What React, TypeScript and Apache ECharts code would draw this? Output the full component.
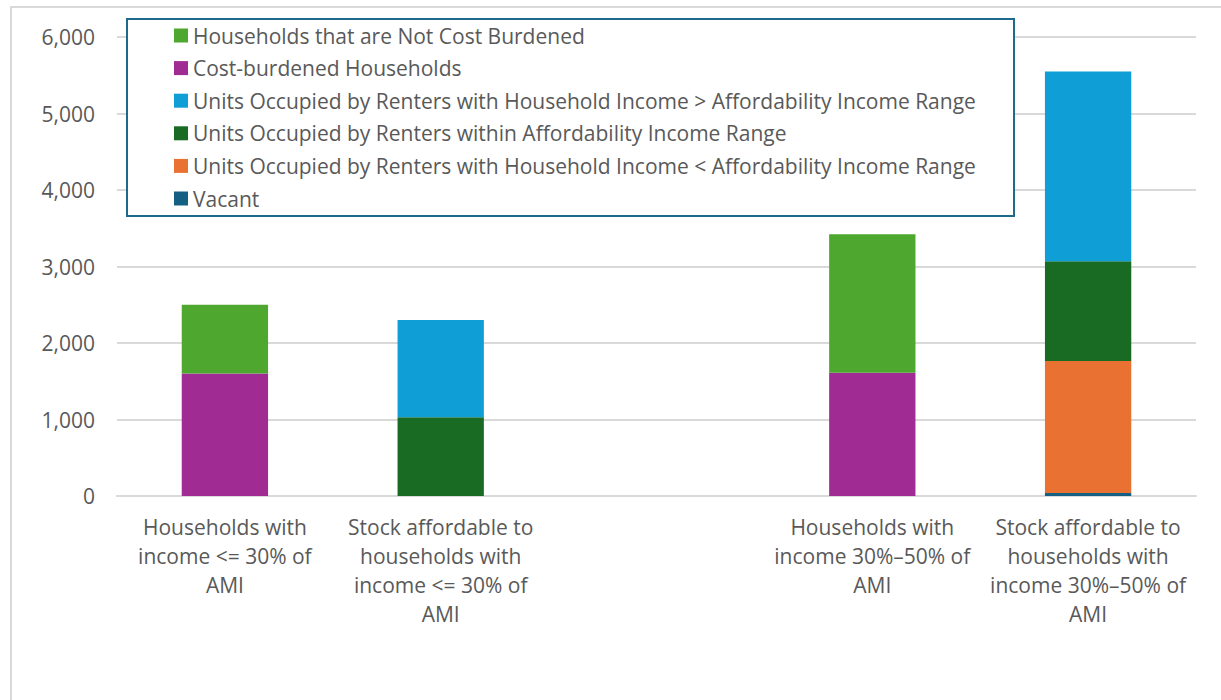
import React, { useEffect, useRef } from "react";
import * as echarts from "echarts";

const categories = [
  "Households with\nincome <= 30% of\nAMI",
  "Stock affordable to\nhouseholds with\nincome <= 30% of\nAMI",
  "",
  "Households with\nincome 30%–50% of\nAMI",
  "Stock affordable to\nhouseholds with\nincome 30%–50% of\nAMI",
];

const notCostBurdened = [900, 0, 0, 1810, 0];
const costBurdened = [1600, 0, 0, 1610, 0];
const aboveRange = [0, 1270, 0, 0, 2480];
const withinRange = [0, 1030, 0, 0, 1305];
const belowRange = [0, 0, 0, 0, 1725];
const vacant = [0, 0, 0, 0, 40];

const yTicks = [0, 1000, 2000, 3000, 4000, 5000, 6000];

const NAMES = {
  ncb: "Households that are Not Cost Burdened",
  cb: "Cost-burdened Households",
  above: "Units Occupied by Renters with Household Income > Affordability Income Range",
  within: "Units Occupied by Renters within Affordability Income Range",
  below: "Units Occupied by Renters with Household Income < Affordability Income Range",
  vacant: "Vacant",
};

const FONT = "'Open Sans', Lato, sans-serif";
const FS = 21;

export default function App() {
  const ref = useRef<HTMLDivElement>(null);
  useEffect(() => {
    if (!ref.current) return;
    const chart = echarts.init(ref.current, undefined, { renderer: "svg" });
    const mk = (name: string, data: number[], color: string) => ({
      name,
      type: "bar",
      stack: "total",
      barWidth: "40%",
      data,
      itemStyle: { color },
      emphasis: { disabled: true },
    });
    chart.setOption({
      animation: false,
      backgroundColor: "#ffffff",
      textStyle: { fontFamily: FONT },
      grid: { left: 117, right: 25, top: 37, bottom: 204, containLabel: false },
      graphic: [
        {
          type: "rect",
          shape: { x: 11, y: 7, width: 1230, height: 720 },
          style: { fill: "none", stroke: "#d9d9d9", lineWidth: 2 },
          silent: true,
          z: -10,
        },
        {
          type: "rect",
          shape: { x: 127, y: 19, width: 887, height: 197 },
          style: { fill: "#ffffff", stroke: "#1e6a8c", lineWidth: 2 },
          silent: true,
          z: 50,
        },
      ],
      legend: {
        orient: "vertical",
        left: 169,
        top: 20,
        padding: [5, 5, 5, 5],
        itemWidth: 14,
        itemHeight: 14,
        itemGap: 11.6,
        z: 60,
        icon: "rect",
        selectedMode: false,
        textStyle: { fontFamily: FONT, fontSize: FS, color: "#595959", lineHeight: 21 },
        data: [NAMES.ncb, NAMES.cb, NAMES.above, NAMES.within, NAMES.below, NAMES.vacant],
      },
      xAxis: {
        type: "category",
        data: categories,
        axisLine: { show: true, lineStyle: { color: "#d9d9d9", width: 2 } },
        axisTick: { show: false },
        axisLabel: {
          interval: 0,
          margin: 16,
          fontFamily: FONT,
          fontSize: FS,
          lineHeight: 29,
          color: "#595959",
          align: "center",
        },
      },
      yAxis: {
        type: "value",
        min: yTicks[0],
        max: yTicks[yTicks.length - 1],
        interval: 1000,
        axisLine: { show: false },
        axisTick: { show: false },
        splitLine: { lineStyle: { color: "#d9d9d9", width: 2 } },
        axisLabel: {
          margin: 22,
          fontFamily: FONT,
          fontSize: FS,
          color: "#595959",
          formatter: (v: number) => v.toLocaleString("en-US"),
        },
      },
      series: [
        mk(NAMES.vacant, vacant, "#156082"),
        mk(NAMES.below, belowRange, "#E97132"),
        mk(NAMES.within, withinRange, "#196B24"),
        mk(NAMES.above, aboveRange, "#0F9ED5"),
        mk(NAMES.cb, costBurdened, "#A02B93"),
        mk(NAMES.ncb, notCostBurdened, "#4EA72E"),
      ],
    });
    return () => chart.dispose();
  }, []);
  return (
    <div
      ref={ref}
      style={{ position: "absolute", left: 0, top: 0, width: 1221, height: 700, background: "#fff" }}
    />
  );
}
